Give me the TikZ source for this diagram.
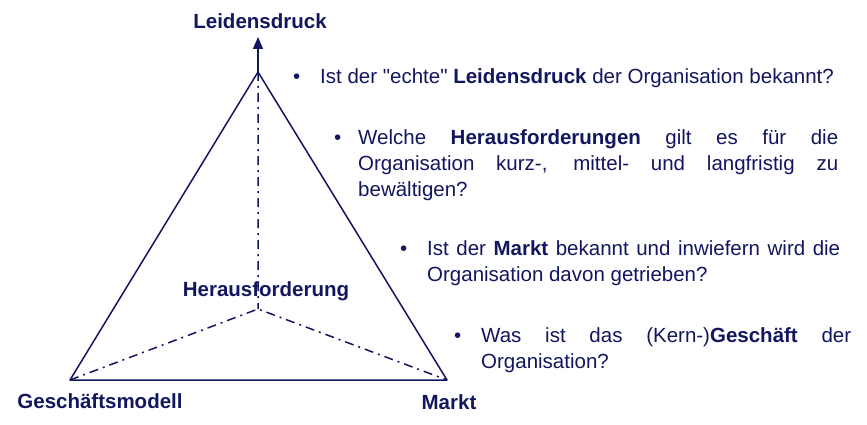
\documentclass[tikz,border=0pt]{standalone}
\usepackage{fontspec}
\setmainfont{Liberation Sans}[Ligatures=TeXOff]
\usepackage{tikz}
\usetikzlibrary{arrows.meta,positioning}

\definecolor{navy}{RGB}{18,22,94}
\newcommand{\frage}[2]{\hyphenpenalty=10000\exhyphenpenalty=10000%
    \hangindent=#1\hangafter=1\makebox[#1][l]{\textbullet}#2\par}

\begin{document}
\begin{tikzpicture}[x=1pt,y=-1pt,node distance=12pt,
        every node/.style={text=navy,font=\fontsize{20.5}{26}\selectfont},
        side/.style={draw=navy,line width=1.5pt,line join=round},
        axis/.style={draw=navy,line width=1.5pt,dash pattern=on 9pt off 5pt on 2pt off 5pt},
        head/.style={font=\fontsize{20.5}{26}\selectfont\bfseries},
        item/.style={anchor=north west,inner sep=0pt,align=justify}]
    \useasboundingbox (0,0) rectangle (867,425);
    \coordinate (top) at (258,72);
    \coordinate (gm)  at (70,380);
    \coordinate (mk)  at (447,380);
    \coordinate (hf)  at (258,309);
    \coordinate (tip) at (258,37);

    \node[head] (l_top) at (260,21)  {Leidensdruck};
    \node[head] (l_hf)  at (266,291) {Herausforderung};
    \node[head] (l_gm)  at (100,401) {Geschäftsmodell};
    \node[head] (l_mk)  at (449,402) {Markt};

    \path[side] (top) -- (gm) -- (mk) -- cycle;
    \draw[side,-{Triangle[length=12pt,width=10pt]}] (top) -- (tip);
    \path[axis] (top) -- (hf) (gm) -- (hf) -- (mk);

    % Fragen
    \node[item,text width=548pt] (q_1) at (293,68)
        {\frage{27pt}{Ist der "echte" \textbf{Leidensdruck} der Organisation bekannt?}};
    \node[item,text width=504pt] (q_2) at (334,129)
        {\frage{24pt}{Welche \textbf{Herausforderungen} gilt es für die Organisation kurz-, mittel- und langfristig zu bewältigen?}};
    \node[item,text width=440pt] (q_3) at (400,240)
        {\frage{27pt}{Ist der \textbf{Markt} bekannt und inwiefern wird die Organisation davon getrieben?}};
    \node[item,text width=397pt] (q_4) at (454,327)
        {\frage{27pt}{Was ist das (Kern-)\textbf{Geschäft} der Organisation?}};
\end{tikzpicture}
\end{document}
